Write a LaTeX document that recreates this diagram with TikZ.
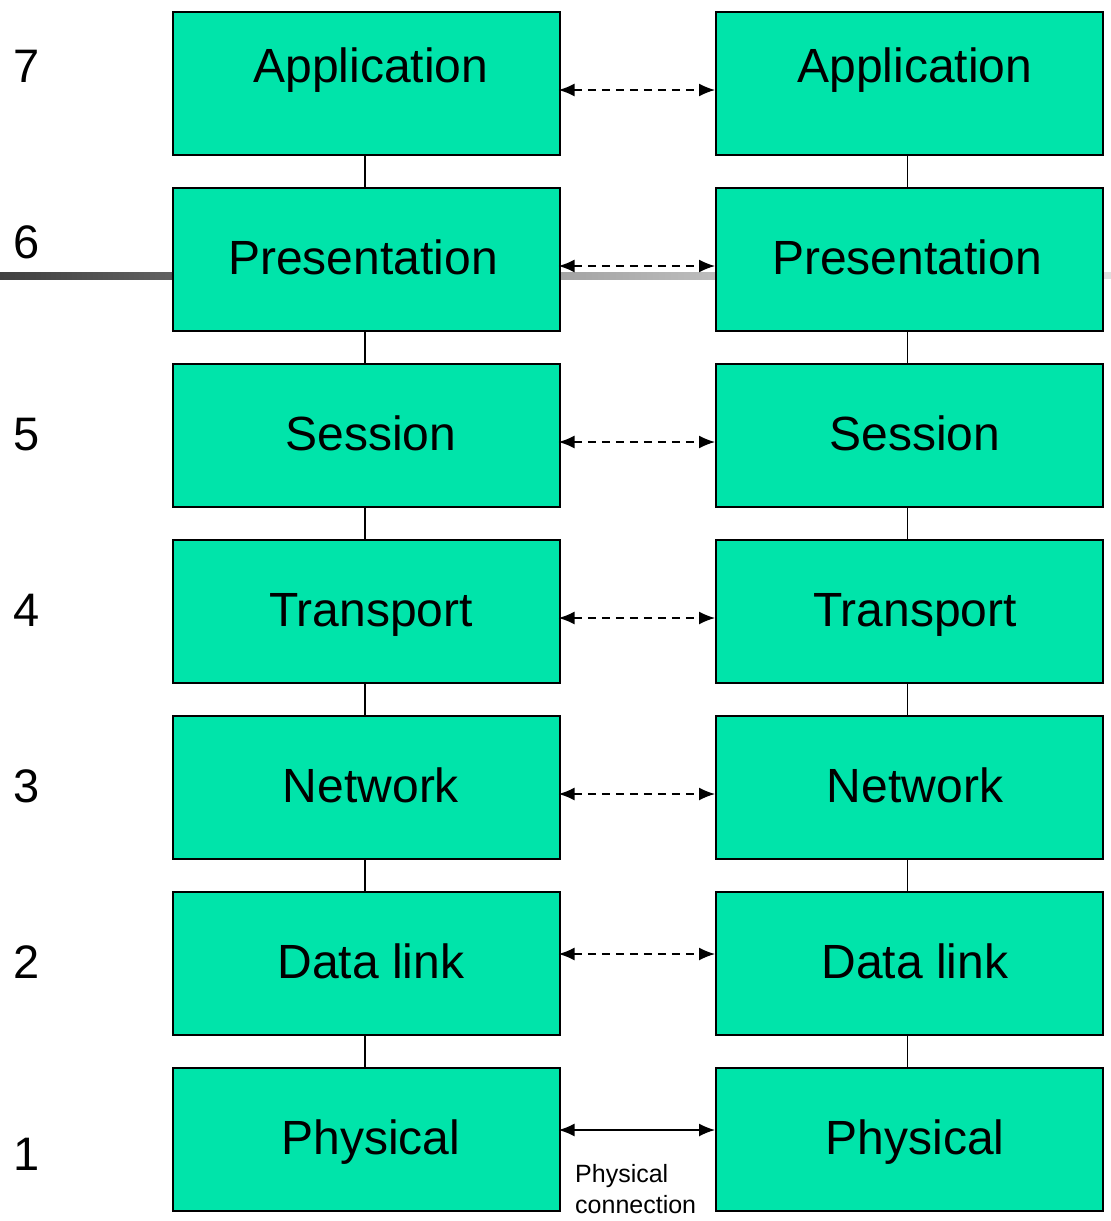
\documentclass[tikz,border=0pt]{standalone}
\usepackage{fontspec}
\setmainfont{Liberation Sans}
\usetikzlibrary{arrows.meta}
\definecolor{layer}{RGB}{0,228,170}
\begin{document}
\begin{tikzpicture}[x=1pt,y=-1pt,
  layerbox/.style={draw=black,line width=1.6pt,fill=layer,minimum width=387pt,minimum height=143pt,inner sep=0pt,anchor=north west},
  layertxt/.style={font=\fontsize{48}{52}\selectfont,anchor=base},
  numtxt/.style={font=\fontsize{47}{52}\selectfont,anchor=base},
  peer/.style={dashed,dash pattern=on 8pt off 6pt,line width=1.5pt,{Latex[length=16pt,width=13pt]}-{Latex[length=16pt,width=13pt]}},
  phys/.style={line width=1.5pt,{Latex[length=16pt,width=13pt]}-{Latex[length=16pt,width=13pt]}},
  stack/.style={line width=1.5pt}]
\useasboundingbox (0,0) rectangle (1111,1221);
% gray slide rule
\shade[left color=black!75,right color=black!62] (0,272) rectangle (172,279);
\shade[left color=black!36,right color=black!26] (559,272) rectangle (715,279);
\fill[black!12] (1103,272) rectangle (1111,279);
% boxes
\foreach \name/\lab/\num/\top/\dx/\ty/\ny in {a/Application/7/11/0/71/71, p/Presentation/6/187/-8/87/71, s/Session/5/363/0/87/87, t/Transport/4/539/0/87/87, n/Network/3/715/0/87/87, d/Data link/2/891/0/87/87, h/Physical/1/1067/0/87/103}{
  \node[layerbox] (L\name) at (172,\top) {};
  \node[layerbox] (R\name) at (715,\top) {};
  \node[layertxt] (LT\name) at (371+\dx,\top+\ty) {\lab};
  \node[layertxt] (RT\name) at (915+\dx,\top+\ty) {\lab};
  \node[numtxt] (N\name) at (27,\top+\ny) {\num};
}
% vertical links
\foreach \u/\l in {a/p,p/s,s/t,t/n,n/d,d/h}{
  \draw[stack] ([xshift=-1.5pt]L\u.south) -- ([xshift=-1.5pt]L\l.north);
  \draw[stack] ([xshift=-2pt]R\u.south) -- ([xshift=-2pt]R\l.north);
}
% peer arrows
\foreach \name/\yy in {a/90,p/266,s/442,t/618,n/794,d/954}{
  \draw[peer] ([xshift=-2pt]L\name.east |- 0,\yy) -- (R\name.west |- 0,\yy);
}
\draw[phys] ([xshift=-2pt]Lh.east |- 0,1130) -- (Rh.west |- 0,1130);
\node[font=\fontsize{25}{31}\selectfont,align=left,anchor=north west,inner sep=0pt] (pc) at (575,1164) {Physical\\connection};
\end{tikzpicture}
\end{document}
